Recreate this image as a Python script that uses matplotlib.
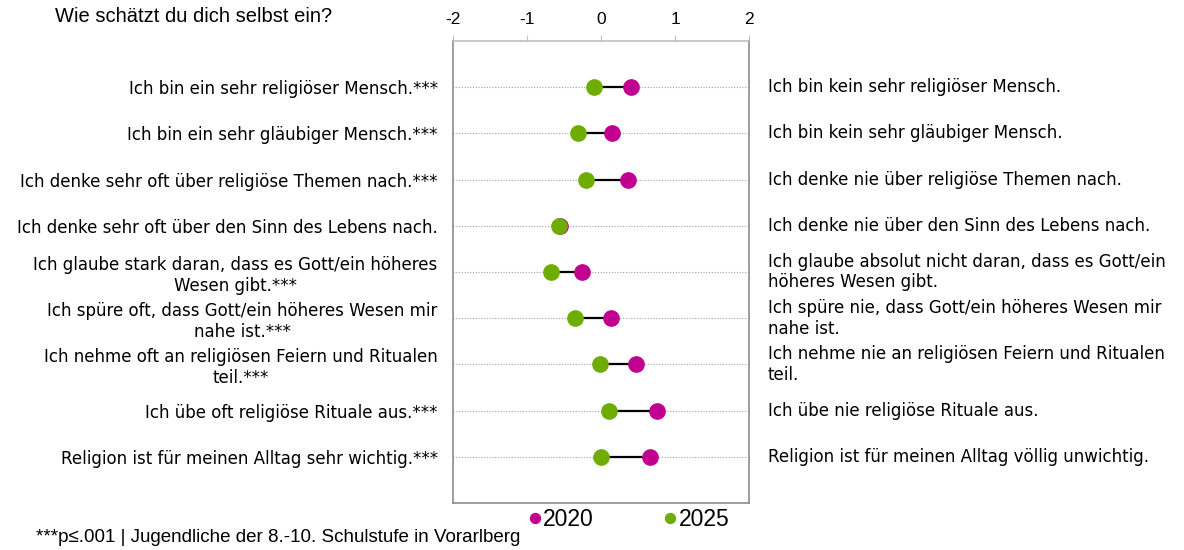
import numpy as np
import matplotlib
matplotlib.use('Agg')
import matplotlib.pyplot as plt
import matplotlib.transforms as mtransforms

plt.rcParams['font.family'] = ['DejaVu Sans']

# Daten
left_labels = [
    'Ich bin ein sehr religiöser Mensch.***',
    'Ich bin ein sehr gläubiger Mensch.***',
    'Ich denke sehr oft über religiöse Themen nach.***',
    'Ich denke sehr oft über den Sinn des Lebens nach.',
    'Ich glaube stark daran, dass es Gott/ein höheres\nWesen gibt.***',
    'Ich spüre oft, dass Gott/ein höheres Wesen mir\nnahe ist.***',
    'Ich nehme oft an religiösen Feiern und Ritualen\nteil.***',
    'Ich übe oft religiöse Rituale aus.***',
    'Religion ist für meinen Alltag sehr wichtig.***',
]
right_labels = [
    'Ich bin kein sehr religiöser Mensch.',
    'Ich bin kein sehr gläubiger Mensch.',
    'Ich denke nie über religiöse Themen nach.',
    'Ich denke nie über den Sinn des Lebens nach.',
    'Ich glaube absolut nicht daran, dass es Gott/ein\nhöheres Wesen gibt.',
    'Ich spüre nie, dass Gott/ein höheres Wesen mir\nnahe ist.',
    'Ich nehme nie an religiösen Feiern und Ritualen\nteil.',
    'Ich übe nie religiöse Rituale aus.',
    'Religion ist für meinen Alltag völlig unwichtig.',
]
val_2020 = [0.40, 0.15, 0.36, -0.55, -0.26, 0.14, 0.47, 0.76, 0.66]
val_2025 = [-0.09, -0.31, -0.20, -0.57, -0.67, -0.35, -0.02, 0.11, 0.00]
x_ticks = [-2, -1, 0, 1, 2]

c2020 = '#C2008F'
c2025 = '#6EAD00'
narrow = ['Liberation Sans', 'DejaVu Sans']

fig = plt.figure(figsize=(11.84, 5.5), dpi=100)
ax = fig.add_axes([453/1184, 1 - 503/550, 296/1184, (503 - 41)/550])

y = np.arange(len(left_labels))

for i in y:
    ax.axhline(i, color='#a0a0a0', linestyle=(0, (1, 1.5)), linewidth=0.8, zorder=1)
    ax.plot([val_2025[i], val_2020[i]], [i, i], color='black', linewidth=1.6, zorder=2)

ax.plot(val_2020, y, 'o', color=c2020, markersize=11, linestyle='none', zorder=3, label='2020')
ax.plot(val_2025, y, 'o', color=c2025, markersize=11, linestyle='none', zorder=4, label='2025')

ax.set_xlim(-2, 2)
ax.set_ylim(9.0, -1.0)
ax.xaxis.tick_top()
ax.set_xticks(x_ticks)
ax.set_xticklabels([str(t) for t in x_ticks], fontsize=12.5, family=narrow)
ax.tick_params(axis='x', length=4, color='#bfbfbf', pad=6)

ax.set_yticks(y)
ax.set_yticklabels(left_labels, fontsize=12, multialignment='center', linespacing=1.2)
ax.tick_params(axis='y', length=0, pad=11)

for side in ['left', 'right', 'bottom']:
    ax.spines[side].set_color('#8c8c8c')
ax.spines['top'].set_color('#bfbfbf')
for s in ax.spines.values():
    s.set_linewidth(1.2)

trans = mtransforms.blended_transform_factory(fig.transFigure, ax.transData)
for i, lab in enumerate(right_labels):
    ax.text(768/1184, i, lab, transform=trans, ha='left', va='center', fontsize=12,
            linespacing=1.2, clip_on=False)

fig.text(55/1184, 1 - 17/550, 'Wie schätzt du dich selbst ein?', fontsize=14.5,
         family=narrow, va='center', ha='left')

leg = fig.legend(handles=ax.get_lines()[-2:], labels=['2020', '2025'], loc='center',
                 bbox_to_anchor=(625/1184, 1 - 520/550), ncol=2, frameon=False,
                 handletextpad=-0.22, columnspacing=2.7, markerscale=0.65, handlelength=1.2,
                 prop={'family': narrow, 'size': 16.5})

fig.text(36/1184, 1 - 538/550, '***p≤.001 | Jugendliche der 8.-10. Schulstufe in Vorarlberg',
         fontsize=13.5, family=narrow, va='center', ha='left')

fig.savefig('out.png', dpi=100)
